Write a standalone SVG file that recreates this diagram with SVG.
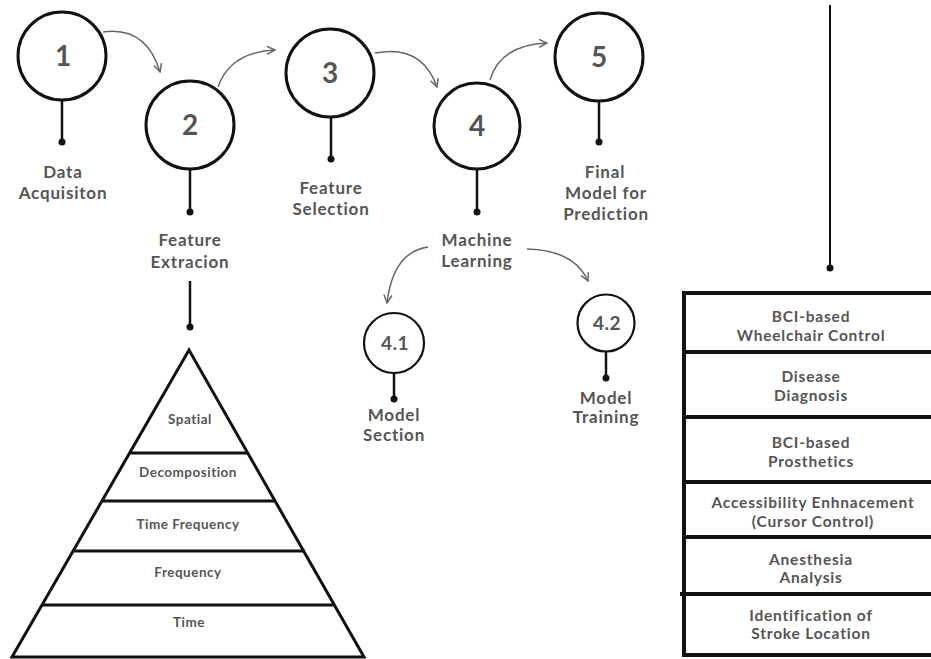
<svg xmlns="http://www.w3.org/2000/svg" width="931" height="659" viewBox="0 0 931 659">
<defs>
<style>
.c{fill:#fff;stroke:#111;stroke-width:3}
.cs{fill:#fff;stroke:#111;stroke-width:2.2}
.st{stroke:#111;stroke-width:2.5;fill:none}
.dot{fill:#111}
.num{font-family:Lato,"Liberation Sans",sans-serif;font-weight:bold;font-size:28px;fill:#555;text-anchor:middle}
.nums{font-family:Lato,"Liberation Sans",sans-serif;font-weight:bold;font-size:19px;letter-spacing:0.5px;fill:#555;text-anchor:middle}
.lb{font-family:Lato,"Liberation Sans",sans-serif;font-weight:bold;font-size:17px;letter-spacing:0.8px;fill:#555;text-anchor:middle}
.pl{font-family:Lato,"Liberation Sans",sans-serif;font-weight:bold;font-size:13.5px;letter-spacing:0.5px;fill:#555;text-anchor:middle}
.tl{font-family:Lato,"Liberation Sans",sans-serif;font-weight:bold;font-size:15.5px;letter-spacing:0.8px;fill:#555;text-anchor:middle}
.ar{fill:none;stroke:#666;stroke-width:1.5;marker-end:url(#ah)}
.thick{stroke:#111;stroke-width:3;fill:none}
.tb{stroke:#111;stroke-width:4;fill:none}
</style>
<marker id="ah" viewBox="0 0 10 10" refX="9" refY="5" markerWidth="10" markerHeight="10" markerUnits="userSpaceOnUse" orient="auto">
<path d="M1,1 L9,5 L1,9" fill="none" stroke="#666" stroke-width="1.5"/>
</marker>
</defs>

<g id="connectors">
<path class="ar" d="M103,32 Q146,26 160,72"/>
<path class="ar" d="M218,87 Q230,52 275,50"/>
<path class="ar" d="M375,53 Q422,44 437,87"/>
<path class="ar" d="M490,80 Q500,45 547,43"/>
<path class="ar" d="M428,247 Q393,252 387,303"/>
<path class="ar" d="M527,249 Q574,250 588,281"/>
<line class="st" x1="190" y1="281" x2="190" y2="326"/>
<circle class="dot" cx="190" cy="327" r="3.5"/>
<line class="st" x1="830" y1="5" x2="830" y2="267" style="stroke-width:2"/>
<circle class="dot" cx="830" cy="268" r="3.5"/>
</g>

<g id="node1">
<line class="st" x1="62" y1="100" x2="62" y2="141"/>
<circle class="dot" cx="62" cy="142" r="3.5"/>
<circle class="c" cx="62" cy="56" r="44"/>
<text class="num" x="63" y="66">1</text>
<text class="lb" x="63" y="178">Data</text>
<text class="lb" x="63" y="199">Acquisiton</text>
</g>

<g id="node2">
<line class="st" x1="190" y1="169" x2="190" y2="211"/>
<circle class="dot" cx="190" cy="212" r="3.5"/>
<circle class="c" cx="190" cy="125" r="44"/>
<text class="num" x="190" y="135">2</text>
<text class="lb" x="190" y="246">Feature</text>
<text class="lb" x="190" y="268">Extracion</text>
</g>

<g id="node3">
<line class="st" x1="331" y1="117" x2="331" y2="158"/>
<circle class="dot" cx="331" cy="159" r="3.5"/>
<circle class="c" cx="330" cy="73" r="44"/>
<text class="num" x="330" y="83">3</text>
<text class="lb" x="331" y="194">Feature</text>
<text class="lb" x="331" y="215">Selection</text>
</g>

<g id="node4">
<line class="st" x1="477" y1="169" x2="477" y2="211"/>
<circle class="dot" cx="477" cy="212" r="3.5"/>
<circle class="c" cx="477" cy="126" r="43"/>
<text class="num" x="477" y="136">4</text>
<text class="lb" x="477" y="246">Machine</text>
<text class="lb" x="477" y="267">Learning</text>
</g>

<g id="node5">
<line class="st" x1="599" y1="100" x2="599" y2="141"/>
<circle class="dot" cx="599" cy="142" r="3.5"/>
<circle class="c" cx="599" cy="57" r="44"/>
<text class="num" x="599" y="67">5</text>
<text class="lb" x="605" y="178">Final</text>
<text class="lb" x="606" y="199">Model for</text>
<text class="lb" x="606" y="220">Prediction</text>
</g>

<g id="node41">
<line class="st" x1="394" y1="372" x2="394" y2="398"/>
<circle class="dot" cx="394" cy="399" r="3.5"/>
<circle class="cs" cx="394" cy="343" r="30"/>
<text class="nums" x="395" y="350">4.1</text>
<text class="lb" x="394" y="421">Model</text>
<text class="lb" x="394" y="441">Section</text>
</g>

<g id="node42">
<line class="st" x1="606" y1="351" x2="606" y2="377"/>
<circle class="dot" cx="606" cy="378" r="3.5"/>
<circle class="cs" cx="606" cy="323" r="28.5"/>
<text class="nums" x="607" y="330">4.2</text>
<text class="lb" x="606" y="404">Model</text>
<text class="lb" x="606" y="423">Training</text>
</g>

<g id="pyramid">
<path class="thick" d="M189,350 L12,657 L364,657 Z" style="stroke-linejoin:miter"/>
<line class="thick" x1="130" y1="453" x2="248" y2="453"/>
<line class="thick" x1="102" y1="501" x2="276" y2="501"/>
<line class="thick" x1="73" y1="551" x2="305" y2="551"/>
<line class="thick" x1="42" y1="605" x2="335" y2="605"/>
<text class="pl" x="190" y="424">Spatial</text>
<text class="pl" x="188" y="477">Decomposition</text>
<text class="pl" x="188" y="529">Time Frequency</text>
<text class="pl" x="188" y="577">Frequency</text>
<text class="pl" x="189" y="627">Time</text>
</g>

<g id="applications">
<line class="tb" x1="684" y1="293" x2="684" y2="657"/>
<line class="tb" x1="682" y1="293" x2="931" y2="293"/>
<line class="tb" x1="682" y1="352" x2="931" y2="352"/>
<line class="tb" x1="682" y1="417" x2="931" y2="417"/>
<line class="tb" x1="682" y1="482" x2="931" y2="482"/>
<line class="tb" x1="682" y1="537" x2="931" y2="537"/>
<line class="tb" x1="680" y1="594" x2="931" y2="594"/>
<line class="tb" x1="682" y1="655" x2="931" y2="655"/>
<text class="tl" x="811" y="322">BCI-based</text>
<text class="tl" x="811" y="341">Wheelchair Control</text>
<text class="tl" x="811" y="382">Disease</text>
<text class="tl" x="811" y="401">Diagnosis</text>
<text class="tl" x="811" y="448">BCI-based</text>
<text class="tl" x="811" y="467">Prosthetics</text>
<text class="tl" x="813" y="508">Accessibility Enhnacement</text>
<text class="tl" x="813" y="527">(Cursor Control)</text>
<text class="tl" x="811" y="565">Anesthesia</text>
<text class="tl" x="811" y="583">Analysis</text>
<text class="tl" x="811" y="621">Identification of</text>
<text class="tl" x="811" y="639">Stroke Location</text>
</g>
</svg>
